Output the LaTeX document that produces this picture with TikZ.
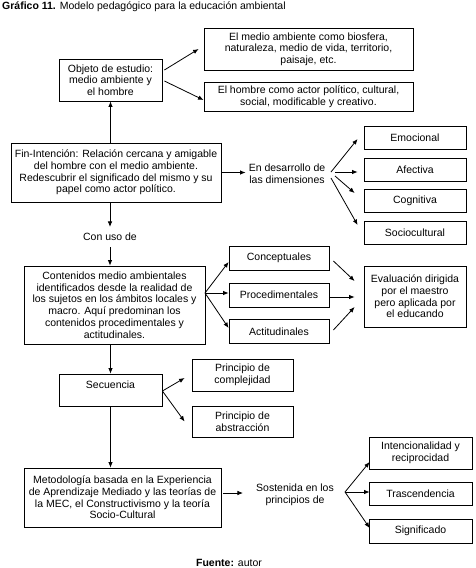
\documentclass[tikz,border=0pt]{standalone}
\usepackage{fontspec}
\setmainfont{Liberation Sans}
\usetikzlibrary{arrows.meta}
\newcommand\diafont{\fontsize{10.5pt}{11.7pt}\selectfont}
\begin{document}
\begin{tikzpicture}[x=1pt,y=-1pt,
  every node/.style={font=\diafont, align=center, inner sep=1pt},
  box/.style={draw, line width=0.8pt, inner sep=0pt},
  arr/.style={line width=0.8pt, -{Latex[length=5.5pt,width=4.5pt]}},
  ln/.style={line width=0.8pt}]
\useasboundingbox (0,0) rectangle (475,568);
\fill[white] (0,0) rectangle (475,568);
% title and source
\node[anchor=west] (title) at (1,7) {\textbf{Gráfico 11.} Modelo pedagógico para la educación ambiental};
\node (fuente) at (229,563) {\textbf{Fuente:} autor};
% boxes
\node[box, minimum width=103pt, minimum height=42pt] (objeto) at (110.5,80) {Objeto de estudio:\\medio ambiente y\\el hombre};
\node[box, minimum width=209pt, minimum height=42pt] (medio) at (308.5,49) {El medio ambiente como biosfera,\\naturaleza, medio de vida, territorio,\\paisaje, etc.};
\node[box, minimum width=209pt, minimum height=29pt] (hombre) at (308.5,96.5) {El hombre como actor político, cultural,\\social, modificable y creativo.};
\node[box, minimum width=210pt, minimum height=59pt] (fin) at (116,172.5) {Fin-Intención: Relación cercana y amigable\\del hombre con el medio ambiente.\\Redescubrir el significado del mismo y su\\papel como actor político.};
\node (desarrollo) at (287,174) {En desarrollo de\\las dimensiones};
\node[box, minimum width=102pt, minimum height=23pt] (emocional) at (415,137.5) {Emocional};
\node[box, minimum width=102pt, minimum height=23pt] (afectiva) at (415,169.5) {Afectiva};
\node[box, minimum width=102pt, minimum height=23pt] (cognitiva) at (415,201) {Cognitiva};
\node[box, minimum width=102pt, minimum height=23pt] (socio) at (415,232.5) {Sociocultural};
\node[inner sep=6pt] (conuso) at (110,237) {Con uso de};
\node[box, minimum width=181pt, minimum height=78pt] (contenidos) at (114.5,305) {Contenidos medio ambientales\\identificados desde la realidad de\\los sujetos en los ámbitos locales y\\macro. Aquí predominan los\\contenidos procedimentales y\\actitudinales.};
\node[box, minimum width=100pt, minimum height=24pt] (concept) at (279,258) {Conceptuales};
\node[box, minimum width=100pt, minimum height=24pt] (proced) at (279,295) {Procedimentales};
\node[box, minimum width=100pt, minimum height=24pt] (actit) at (279,331.5) {Actitudinales};
\node[box, minimum width=102pt, minimum height=61pt] (eval) at (415,296.5) {Evaluación dirigida\\por el maestro\\pero aplicada por\\el educando};
\node[box, minimum width=103pt, minimum height=32pt,
      label={[anchor=center,yshift=-11pt]north:Secuencia}] (sec) at (110.5,390) {};
\node[box, minimum width=101pt, minimum height=32pt] (complej) at (242.5,375) {Principio de\\complejidad};
\node[box, minimum width=101pt, minimum height=31pt] (abstr) at (242.5,421.5) {Principio de\\abstracción};
\node[box, minimum width=197pt, minimum height=59pt] (metod) at (122.5,497.5) {Metodología basada en la Experiencia\\de Aprendizaje Mediado y las teorías de\\la MEC, el Constructivismo y la teoría\\Socio-Cultural};
\node (sost) at (295,495) {Sostenida en los\\principios de};
\node[box, minimum width=103pt, minimum height=32pt] (intenc) at (420.5,453) {Intencionalidad y\\reciprocidad};
\node[box, minimum width=103pt, minimum height=23pt] (trasc) at (420.5,493.5) {Trascendencia};
\node[box, minimum width=103pt, minimum height=24pt] (signif) at (420.5,531) {Significado};
% fan origins
\coordinate (dfan) at (331,175);
\coordinate (cfan) at (205,293);
\coordinate (sfan) at (345,492);
% connectors
\draw[arr] ([xshift=2pt,yshift=10pt]objeto.east) -- ([xshift=-5pt]medio.west);
\draw[arr] ([xshift=2pt,yshift=-1pt]objeto.east) -- ([yshift=-3.5pt]hombre.west);
\draw[arr] (objeto.south |- fin.north) -- (objeto.south);
\draw[arr] (fin.east) -- ([xshift=-2pt]desarrollo.west |- fin.east);
\draw[arr] ([yshift=3pt]dfan) -- ([xshift=-6pt,yshift=-1.5pt]emocional.west);
\draw[arr] ([xshift=4pt,yshift=3pt]dfan) -- ([xshift=-6pt,yshift=-2.5pt]afectiva.west);
\draw[arr] ([xshift=4pt,yshift=-1pt]dfan) -- ([xshift=-9pt,yshift=8pt]cognitiva.west);
\draw[arr] ([yshift=-3pt]dfan) -- ([xshift=-6pt,yshift=7.5pt]socio.west);
\draw[arr] (conuso.north |- fin.south) -- (conuso.north);
\draw[arr] (conuso.south) -- (conuso.south |- contenidos.north);
\draw[arr] (cfan) -- ([yshift=-4pt]concept.west);
\draw[arr] (cfan) -- (cfan -| proced.west);
\draw[arr] (cfan) -- ([yshift=3.5pt]actit.west);
\draw[arr] ([xshift=4pt,yshift=-3pt]concept.east) -- ([xshift=-9pt,yshift=15.5pt]eval.west);
\draw[arr] ([yshift=-2pt]proced.east) -- ([xshift=-9pt,yshift=-0.5pt]eval.west);
\draw[arr] ([xshift=4pt,yshift=1.5pt]actit.east) -- ([xshift=-9pt,yshift=-10.5pt]eval.west);
\draw[arr] (sec.north |- contenidos.south) -- (sec.north);
\draw[arr] ([yshift=-1pt]sec.east) -- ([xshift=-7pt,yshift=-3pt]complej.west);
\draw[arr] ([yshift=-1pt]sec.east) -- ([xshift=-7pt]abstr.west);
\draw[arr] (sec.south) -- (sec.south |- metod.north);
\draw[arr] ([xshift=2pt,yshift=4.5pt]metod.east) -- ([xshift=-12pt,yshift=2pt]sost.west);
\draw[arr] (sfan) -- ([xshift=1pt,yshift=-9pt]intenc.west);
\draw[arr] (sfan) -- ([xshift=1pt,yshift=1.5pt]trasc.west);
\draw[arr] (sfan) -- ([xshift=1pt,yshift=3pt]signif.west);
\end{tikzpicture}
\end{document}
